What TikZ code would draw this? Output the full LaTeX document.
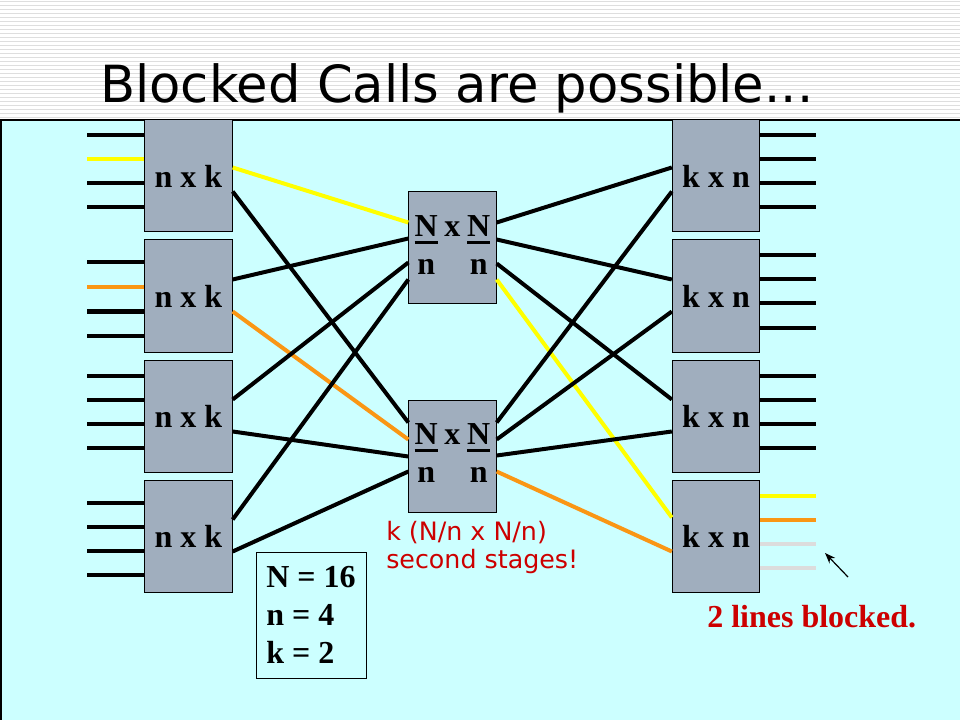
\documentclass[tikz,border=0pt]{standalone}
\usepackage{fontspec}
\setmainfont{Liberation Serif}
\newfontfamily\verdfont{DejaVu Sans}
\usepackage{tikz}
\usetikzlibrary{arrows.meta, calc}
\definecolor{bgcyan}{RGB}{204,255,255}
\definecolor{boxgray}{RGB}{160,174,190}
\definecolor{wireyellow}{RGB}{255,255,0}
\definecolor{wireorange}{RGB}{250,150,20}
\definecolor{deadgray}{RGB}{220,220,220}
\definecolor{notered}{RGB}{204,0,0}
\definecolor{stripegray}{RGB}{222,222,222}
\newcommand{\barN}{\leavevmode\rlap{\rule[-5.5pt]{17.3pt}{2.2pt}}N}

\begin{document}
\begin{tikzpicture}[x=0.75pt, y=-0.75pt, >=Stealth,
    sbox/.style={draw, line width=0.75pt, fill=boxgray, minimum width=65.5pt, minimum height=84pt, inner sep=0pt, font=\fontsize{24}{28.8}\selectfont\bfseries},
    wire/.style={line width=3pt},
    stub/.style={line width=3pt}]
    \useasboundingbox (0,0) rectangle (960,720);
    % striped header and cyan field
    \foreach \y in {2,6,...,118}
        \draw[stripegray, line width=0.75pt] (0,\y) -- (960,\y);
    \fill[bgcyan] (1,120) rectangle (960,720);
    \draw[line width=1pt] (1,720) -- (1,120) -- (960,120);
    \node[anchor=base west, inner sep=0pt, font=\verdfont\fontsize{38.4}{44}\selectfont] (title) at (100,103) {Blocked Calls are possible...};

    % first, second and third stages
    \foreach \i in {1,...,4} {
        \node[sbox] (lbox\i) at (188.5,56+120*\i) {n x k};
        \node[sbox] (rbox\i) at (716,56+120*\i) {k x n};
    }
    \node[sbox] (mid1) at (452.5,248) {\begin{tabular}{@{}c@{\hspace{5pt}}c@{\hspace{5pt}}c@{}}\barN & x & \barN\\ n & & n\end{tabular}};
    \node[sbox] (mid2) at (452.5,456) {\begin{tabular}{@{}c@{\hspace{5pt}}c@{\hspace{5pt}}c@{}}\barN & x & \barN\\ n & & n\end{tabular}};

    % input and output lines
    \foreach \i/\o/\c in {1/16/black, 1/40/wireyellow, 1/64/black, 1/88/black,
                          2/23/black, 2/48/wireorange, 2/72/black, 2/96/black,
                          3/16/black, 3/40/black, 3/64/black, 3/88/black,
                          4/23/black, 4/47/black, 4/71/black, 4/95/black}
        \draw[stub, \c] ($(lbox\i.north west)+(0,\o)$) -- ++(-57,0);
    \foreach \i/\o/\c in {1/16/black, 1/40/black, 1/64/black, 1/88/black,
                          2/16/black, 2/40/black, 2/64/black, 2/88/black,
                          3/16/black, 3/40/black, 3/64/black, 3/88/black,
                          4/16/wireyellow, 4/40/wireorange, 4/64/deadgray, 4/88/deadgray}
        \draw[stub, \c] ($(rbox\i.north east)+(0,\o)$) -- ++(56,0);

    % links between stages
    \draw[wire, wireyellow] ($(lbox1.north east)+(0,48)$) -- ($(mid1.north west)+(0,31)$);
    \draw[wire] ($(lbox1.north east)+(0,72)$) -- ($(mid2.north west)+(0,23)$);
    \draw[wire] ($(lbox2.north east)+(0,40)$) -- ($(mid1.north west)+(0,47)$);
    \draw[wire, wireorange] ($(lbox2.north east)+(0,72)$) -- ($(mid2.north west)+(0,40)$);
    \draw[wire] ($(lbox3.north east)+(0,40)$) -- ($(mid1.north west)+(0,71)$);
    \draw[wire] ($(lbox3.north east)+(0,72)$) -- ($(mid2.north west)+(0,57)$);
    \draw[wire] ($(lbox4.north east)+(0,40)$) -- ($(mid1.north west)+(0,88)$);
    \draw[wire] ($(lbox4.north east)+(0,72)$) -- ($(mid2.north west)+(0,72)$);

    \draw[wire] ($(mid1.north east)+(0,31)$) -- ($(rbox1.north west)+(0,48)$);
    \draw[wire] ($(mid1.north east)+(0,48)$) -- ($(rbox2.north west)+(0,40)$);
    \draw[wire] ($(mid1.north east)+(0,72)$) -- ($(rbox3.north west)+(0,40)$);
    \draw[wire, wireyellow] ($(mid1.north east)+(0,88)$) -- ($(rbox4.north west)+(0,38)$);
    \draw[wire] ($(mid2.north east)+(0,23)$) -- ($(rbox1.north west)+(0,72)$);
    \draw[wire] ($(mid2.north east)+(0,40)$) -- ($(rbox2.north west)+(0,72)$);
    \draw[wire] ($(mid2.north east)+(0,56)$) -- ($(rbox3.north west)+(0,72)$);
    \draw[wire, wireorange] ($(mid2.north east)+(0,72)$) -- ($(rbox4.north west)+(0,72)$);

    % notes
    \node[draw, line width=0.75pt, fill=bgcyan, minimum width=82.5pt, minimum height=94.5pt, inner sep=6pt, align=left, font=\fontsize{24}{28.8}\selectfont\bfseries] (params) at (311,615) {N = 16\\n = 4\\k = 2};
    \node[anchor=base west, inner sep=0pt, align=left, text=notered, font=\verdfont\fontsize{19}{20.3}\selectfont] (stagenote) at (386,568) {k (N/n x N/n)\\second stages!};
    \node[anchor=base west, inner sep=0pt, text=notered, font=\fontsize{24}{28.8}\selectfont\bfseries] (blocked) at (707,627) {2 lines blocked.};
    \coordinate (arrtail) at (848,577);
    \coordinate (arrhead) at (825,553);
    \draw[line width=0.9pt, -{Stealth[length=8pt, width=6pt]}] (arrtail) -- (arrhead);
\end{tikzpicture}
\end{document}
